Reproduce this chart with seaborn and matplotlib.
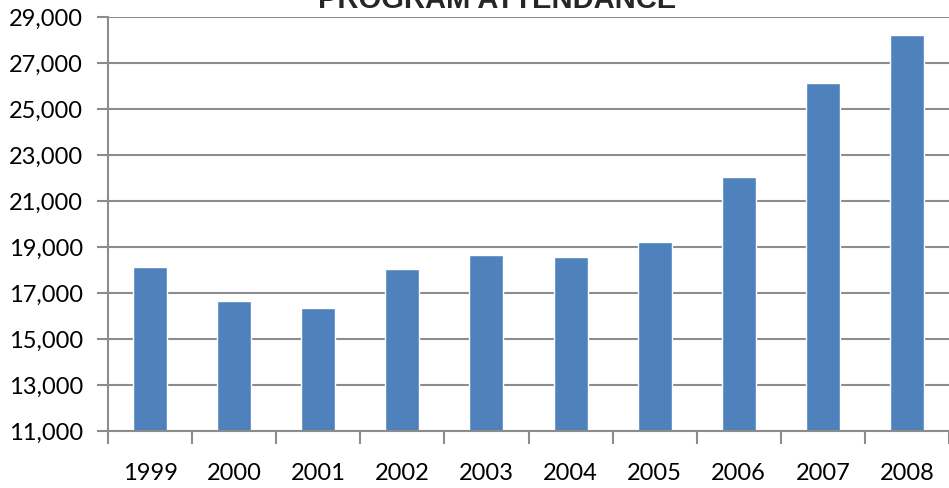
import matplotlib
matplotlib.use("Agg")
import matplotlib.pyplot as plt
import seaborn as sns
import pandas as pd
import numpy as np

years = ["1999", "2000", "2001", "2002", "2003", "2004", "2005", "2006", "2007", "2008"]
attendance = [18120, 16640, 16340, 18030, 18650, 18570, 19220, 22040, 26130, 28220]
y_ticks = [11000, 13000, 15000, 17000, 19000, 21000, 23000, 25000, 27000, 29000]

sns.set_theme(style="white")
plt.rcParams['font.family'] = ['Lato', 'DejaVu Sans']

df = pd.DataFrame({"year": years, "attendance": attendance})

fig = plt.figure(figsize=(9.49, 4.88), dpi=100)
ax = fig.add_axes([108/949, 1 - 431/488, (949 - 108)/949, (431 - 17)/488])

sns.barplot(data=df, x="year", y="attendance", color="#4F81BD", saturation=1,
            width=0.405, ax=ax, zorder=3)

ax.set_ylim(11000, 29000)
ax.set_xlim(-0.5, len(years) - 0.5)
ax.set_yticks(y_ticks)
ax.set_yticklabels([f"{v:,}" for v in y_ticks])
ax.set_xlabel("")
ax.set_ylabel("")

grid_color = "#8C8C8C"
for v in y_ticks:
    ax.axhline(v, color=grid_color, lw=1.5, zorder=1)

for s in ["top", "right"]:
    ax.spines[s].set_visible(False)
ax.spines["left"].set_color(grid_color)
ax.spines["left"].set_linewidth(1.5)
ax.spines["bottom"].set_color(grid_color)
ax.spines["bottom"].set_linewidth(1.5)
ax.spines["bottom"].set_zorder(4)

ax.tick_params(axis="y", which="major", left=True, length=8, width=1.5, color=grid_color,
               labelsize=17, pad=10, labelcolor="black")
ax.set_xticks(np.arange(len(years)))
ax.set_xticklabels(years)
ax.tick_params(axis="x", which="major", bottom=False, length=0, labelsize=17, pad=23,
               labelcolor="black")
ax.set_xticks(np.arange(-0.5, len(years) + 0.5, 1.0), minor=True)
ax.tick_params(axis="x", which="minor", bottom=True, length=9, width=1.5, color=grid_color)

fig.text(497/949, 1 - 8/488, "PROGRAM ATTENDANCE", ha="center", va="baseline",
         fontsize=21, fontweight="bold", family=["Liberation Sans", "DejaVu Sans"])

fig.savefig("out.png", dpi=100)
